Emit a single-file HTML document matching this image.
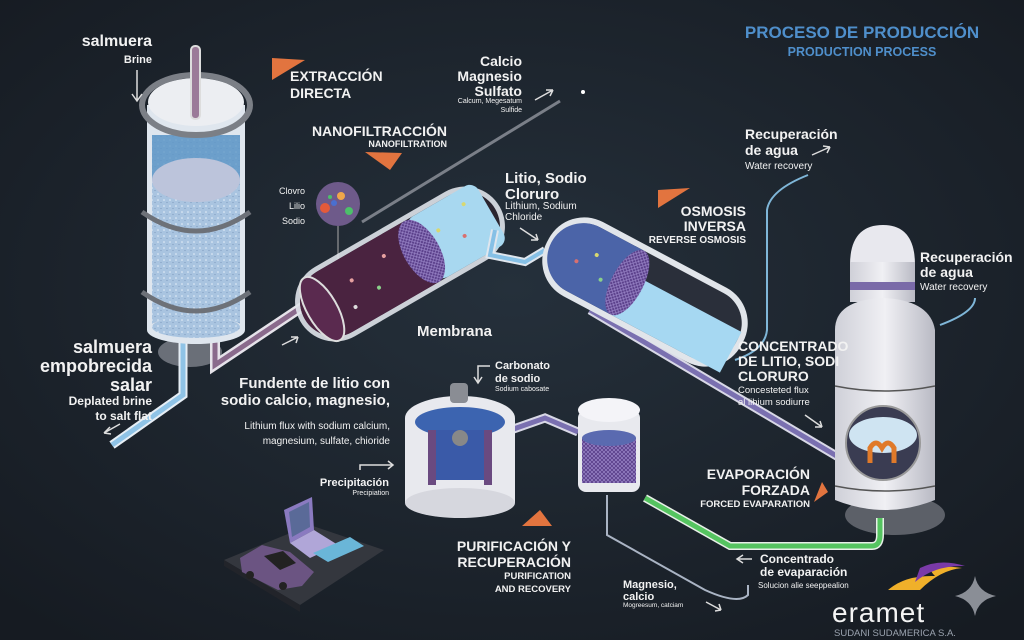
<!DOCTYPE html>
<html><head><meta charset="utf-8"><style>
html,body{margin:0;padding:0;background:#1d232c;}
svg{display:block;}
text{font-family:"Liberation Sans",sans-serif;fill:#f2f2f2;}
.b{font-weight:bold;}
</style></head><body>
<svg width="1024" height="640" viewBox="0 0 1024 640" xmlns="http://www.w3.org/2000/svg">
<defs>
<radialGradient id="bg" cx="50%" cy="45%" r="70%"><stop offset="0" stop-color="#25303b"/><stop offset="1" stop-color="#161b22"/></radialGradient>
<pattern id="dots" width="6" height="6" patternUnits="userSpaceOnUse"><rect width="6" height="6" fill="#a9c4e0"/><circle cx="2" cy="2" r="0.8" fill="#e8f0fa"/><circle cx="5" cy="4.5" r="0.6" fill="#7f9cc0"/></pattern>
<pattern id="mesh" width="4" height="4" patternUnits="userSpaceOnUse"><rect width="4" height="4" fill="#5a3f8a"/><path d="M0 0L4 4M4 0L0 4" stroke="#9a86c8" stroke-width="0.7"/></pattern>
<linearGradient id="evap" x1="0" x2="1"><stop offset="0" stop-color="#cfd0d8"/><stop offset="0.5" stop-color="#f0f0f4"/><stop offset="1" stop-color="#b9bac4"/></linearGradient>
</defs>
<rect width="1024" height="640" fill="url(#bg)"/>

<text x="862" y="38" text-anchor="middle" class="b" font-size="17" style="fill:#4f8fcb">PROCESO DE PRODUCCIÓN</text>
<text x="862" y="56" text-anchor="middle" class="b" font-size="12.5" style="fill:#4f8fcb">PRODUCTION PROCESS</text>

<!-- left tank -->
<ellipse cx="190" cy="352" rx="32" ry="15" fill="#6a6f78"/>
<path d="M183 340 L183 395 L112 445" fill="none" stroke="#e6eef5" stroke-width="9"/>
<path d="M183 340 L183 395 L112 445" fill="none" stroke="#8fc3e6" stroke-width="5"/>
<path d="M215 330 L215 365 L320 295" fill="none" stroke="#e6e3ea" stroke-width="10"/>
<path d="M215 330 L215 365 L320 295" fill="none" stroke="#8a6a8c" stroke-width="5"/>
<rect x="147" y="105" width="98" height="225" fill="#dfe6ee"/>
<rect x="152" y="135" width="88" height="195" fill="url(#dots)"/>
<rect x="152" y="135" width="88" height="45" fill="#5d96c6" opacity="0.8"/>
<ellipse cx="196" cy="180" rx="44" ry="22" fill="#bcc4db"/>
<ellipse cx="196" cy="330" rx="49" ry="14" fill="#dfe6ee"/>
<ellipse cx="196" cy="327" rx="44" ry="11" fill="url(#dots)"/>
<ellipse cx="196" cy="105" rx="54" ry="30" fill="none" stroke="#7b7f86" stroke-width="6"/>
<ellipse cx="196" cy="102" rx="48" ry="24" fill="#eceef2"/>
<path d="M142 212 Q196 250 250 212" fill="none" stroke="#6d7178" stroke-width="5"/>
<path d="M142 292 Q196 330 250 292" fill="none" stroke="#6d7178" stroke-width="5"/>
<rect x="191" y="46" width="9" height="73" rx="4" fill="#9b7a98" stroke="#ddd" stroke-width="2"/>
<text x="152" y="46" text-anchor="end" class="b" font-size="16">salmuera</text>
<text x="152" y="63" text-anchor="end" class="b" font-size="11">Brine</text>
<path d="M137 70 V100 M132 94 L137 101 L142 94" stroke="#ddd" stroke-width="1.5" fill="none"/>

<text x="152" y="353" text-anchor="end" class="b" font-size="18">salmuera</text>
<text x="152" y="372" text-anchor="end" class="b" font-size="18">empobrecida</text>
<text x="152" y="391" text-anchor="end" class="b" font-size="18">salar</text>
<text x="152" y="405" text-anchor="end" class="b" font-size="12">Deplated brine</text>
<text x="152" y="420" text-anchor="end" class="b" font-size="12">to salt flat</text>
<path d="M120 424 L104 433 M104 433 L110 427 M104 433 L111 434" stroke="#ddd" stroke-width="1.5"/>

<path d="M272 58 L305 60 L272 80Z" fill="#e2743f"/>
<text x="290" y="81" class="b" font-size="14">EXTRACCIÓN</text>
<text x="290" y="98" class="b" font-size="14">DIRECTA</text>
<text x="447" y="136" text-anchor="end" class="b" font-size="14">NANOFILTRACCIÓN</text>
<text x="447" y="147" text-anchor="end" class="b" font-size="9">NANOFILTRATION</text>
<path d="M365 152 L402 153 L390 170Z" fill="#e2743f"/>
<text x="522" y="66" text-anchor="end" class="b" font-size="14">Calcio</text>
<text x="522" y="81" text-anchor="end" class="b" font-size="14">Magnesio</text>
<text x="522" y="96" text-anchor="end" class="b" font-size="14">Sulfato</text>
<text x="522" y="103" text-anchor="end" font-size="7">Calcum, Megesatum</text>
<text x="522" y="112" text-anchor="end" font-size="7">Sulfide</text>
<path d="M535 100 L553 90 M553 90 L546 90 M553 90 L550 96" stroke="#ddd" stroke-width="1.5"/>
<circle cx="583" cy="92" r="2" fill="#fff"/>
<path d="M560 101 L362 222" stroke="#7a7f88" stroke-width="3"/>

<circle cx="338" cy="204" r="22" fill="#6e5a8a"/>
<circle cx="341" cy="196" r="4" fill="#f0a64a"/><circle cx="325" cy="208" r="5" fill="#e45a3a"/><circle cx="349" cy="211" r="4" fill="#4cc06a"/><circle cx="334" cy="203" r="3" fill="#4a6fd0"/><circle cx="330" cy="197" r="2" fill="#4cc06a"/>
<line x1="338" y1="226" x2="338" y2="265" stroke="#aaa" stroke-width="1"/>
<text x="305" y="194" text-anchor="end" font-size="9">Clovro</text>
<text x="305" y="209" text-anchor="end" font-size="9">Lilio</text>
<text x="305" y="224" text-anchor="end" font-size="9">Sodio</text>

<g transform="translate(400,264) rotate(-30)">
<rect x="-115" y="-40" width="230" height="80" rx="40" fill="#dfe3ea" opacity="0.9"/>
<rect x="-110" y="-35" width="220" height="70" rx="35" fill="#2a2530"/>
<path d="M-75 -35 H25 V35 H-75 A 35 35 0 0 1 -75 -35Z" fill="#4a2340"/>
<rect x="25" y="-35" width="80" height="70" rx="10" fill="#a8d8f0"/>
<ellipse cx="25" cy="0" rx="18" ry="35" fill="url(#mesh)"/>
<ellipse cx="-90" cy="0" rx="15" ry="36" fill="#5a2a4f" stroke="#ddd" stroke-width="2"/>
<circle cx="-50" cy="-10" r="2" fill="#e6a0a0"/><circle cx="-30" cy="10" r="2" fill="#8ad08a"/><circle cx="-10" cy="-15" r="2" fill="#e6a0a0"/><circle cx="-60" cy="15" r="2" fill="#ddd"/>
<circle cx="50" cy="-10" r="2" fill="#d8d870"/><circle cx="70" cy="8" r="2" fill="#d87070"/><circle cx="85" cy="-20" r="2" fill="#d8d870"/>
</g>
<path d="M495 230 L490 255 L525 262 L545 250" fill="none" stroke="#dfe6ee" stroke-width="8"/>
<path d="M495 230 L490 255 L525 262 L545 250" fill="none" stroke="#86c0e6" stroke-width="4"/>

<text x="505" y="183" class="b" font-size="15">Litio, Sodio</text>
<text x="505" y="199" class="b" font-size="15">Cloruro</text>
<text x="505" y="209" font-size="10">Lithium, Sodium</text>
<text x="505" y="220" font-size="10">Chloride</text>
<path d="M520 228 L538 240 M538 240 L531 240 M538 240 L536 234" stroke="#ddd" stroke-width="1.5"/>

<text x="417" y="336" class="b" font-size="15">Membrana</text>

<path d="M590 310 L840 458" stroke="#d8d8e6" stroke-width="9"/>
<path d="M590 310 L840 458" stroke="#7a70b0" stroke-width="5"/>
<g transform="translate(645,292) rotate(28)">
<rect x="-110" y="-42" width="220" height="84" rx="40" fill="#e1e5ea"/>
<rect x="-104" y="-36" width="208" height="72" rx="34" fill="#2a2f3a"/>
<path d="M-70 -36 H-20 V36 H-70 A36 36 0 0 1 -70 -36Z" fill="#4b64a8"/>
<rect x="-20" y="-10" width="124" height="46" fill="#a6d8f2"/>
<ellipse cx="-20" cy="0" rx="16" ry="36" fill="url(#mesh)"/>
<circle cx="-60" cy="-10" r="2" fill="#d8d870"/><circle cx="-45" cy="10" r="2" fill="#8ad08a"/><circle cx="-75" cy="5" r="2" fill="#d87070"/>
</g>
<path d="M658 190 L690 188 L658 208Z" fill="#e2743f"/>
<text x="746" y="216" text-anchor="end" class="b" font-size="14">OSMOSIS</text>
<text x="746" y="231" text-anchor="end" class="b" font-size="14">INVERSA</text>
<text x="746" y="243" text-anchor="end" class="b" font-size="10">REVERSE OSMOSIS</text>

<text x="745" y="139" class="b" font-size="14">Recuperación</text>
<text x="745" y="155" class="b" font-size="14">de agua</text>
<text x="745" y="169" font-size="10">Water recovery</text>
<path d="M812 155 L830 147 M830 147 L823 146 M830 147 L827 153" stroke="#ddd" stroke-width="1.5"/>
<path d="M808 175 Q770 190 767 210 L767 330 Q765 350 735 360" fill="none" stroke="#7fb6d8" stroke-width="2"/>

<ellipse cx="895" cy="515" rx="50" ry="20" fill="#5c6068"/>
<path d="M850 265 Q850 225 883 225 Q915 225 915 265 Z" fill="#e8e8ee"/>
<rect x="850" y="262" width="65" height="40" fill="url(#evap)"/>
<rect x="850" y="282" width="65" height="8" fill="#7a6aa8"/>
<path d="M835 330 Q835 300 883 298 Q930 300 935 330 L935 500 Q885 520 835 500Z" fill="url(#evap)"/>
<path d="M835 386 Q885 396 935 386" fill="none" stroke="#555" stroke-width="1.5"/>
<path d="M835 486 Q885 496 935 486" fill="none" stroke="#555" stroke-width="1.5"/>
<circle cx="883" cy="443" r="37" fill="#3a3c52" stroke="#999" stroke-width="2"/>
<ellipse cx="883" cy="435" rx="34" ry="18" fill="#cfe4f2"/>
<path d="M870 463 V448 Q876 438 882 448 Q888 438 894 448 V463" fill="none" stroke="#e07a2a" stroke-width="5"/>
<text x="920" y="262" class="b" font-size="14">Recuperación</text>
<text x="920" y="277" class="b" font-size="14">de agua</text>
<text x="920" y="290" font-size="10">Water recovery</text>
<path d="M975 298 Q975 312 940 325" fill="none" stroke="#7fb6d8" stroke-width="2"/>

<text x="738" y="351" class="b" font-size="14">CONCENTRADO</text>
<text x="738" y="366" class="b" font-size="14">DE LITIO, SODI</text>
<text x="738" y="381" class="b" font-size="14">CLORURO</text>
<text x="738" y="393" font-size="9.5">Concesteted flux</text>
<text x="738" y="405" font-size="9.5">al lihium sodiurre</text>
<path d="M805 415 L822 427 M822 427 L815 427 M822 427 L820 421" stroke="#ddd" stroke-width="1.5"/>

<text x="810" y="479" text-anchor="end" class="b" font-size="14">EVAPORACIÓN</text>
<text x="810" y="495" text-anchor="end" class="b" font-size="14">FORZADA</text>
<text x="810" y="507" text-anchor="end" class="b" font-size="9.5">FORCED EVAPARATION</text>
<path d="M822 482 L828 492 L814 502Z" fill="#e2743f"/>

<path d="M645 498 L730 546 L872 546 Q880 546 880 535 L880 518" fill="none" stroke="#e8efe8" stroke-width="8"/>
<path d="M645 498 L730 546 L872 546 Q880 546 880 535 L880 518" fill="none" stroke="#55c460" stroke-width="5"/>

<path d="M505 432 L545 418 L578 432" fill="none" stroke="#d8d8e6" stroke-width="9"/>
<path d="M505 432 L545 418 L578 432" fill="none" stroke="#7a70b0" stroke-width="5"/>
<rect x="405" y="418" width="110" height="85" fill="#e8e9ee"/>
<ellipse cx="460" cy="503" rx="55" ry="15" fill="#d6d7de"/>
<ellipse cx="460" cy="418" rx="55" ry="22" fill="#e8e9ee"/>
<ellipse cx="460" cy="422" rx="45" ry="15" fill="#3c64b0"/>
<rect x="435" y="430" width="50" height="50" fill="#3a5aa8"/>
<rect x="428" y="430" width="8" height="55" fill="#6a4a80"/>
<rect x="484" y="430" width="8" height="55" fill="#6a4a80"/>
<rect x="450" y="383" width="18" height="20" rx="4" fill="#8a8d94"/>
<circle cx="460" cy="438" r="8" fill="#888"/>
<text x="495" y="369" class="b" font-size="11">Carbonato</text>
<text x="495" y="382" class="b" font-size="11">de sodio</text>
<text x="495" y="391" font-size="7">Sodium cabosate</text>
<path d="M490 366 H478 V382 M474 377 L478 383 L482 377" stroke="#ddd" stroke-width="1.5" fill="none"/>

<text x="390" y="388" text-anchor="end" class="b" font-size="15">Fundente de litio con</text>
<text x="390" y="405" text-anchor="end" class="b" font-size="15">sodio calcio, magnesio,</text>
<text x="390" y="429" text-anchor="end" font-size="10">Lithium flux with sodium calcium,</text>
<text x="390" y="444" text-anchor="end" font-size="10">magnesium, sulfate, chioride</text>
<path d="M360 470 V465 H393 M388 461 L393 465 L388 469" stroke="#ddd" stroke-width="1.5" fill="none"/>
<text x="389" y="486" text-anchor="end" class="b" font-size="11">Precipitación</text>
<text x="389" y="495" text-anchor="end" font-size="7">Precipiation</text>
<path d="M282 345 L298 337 M298 337 L291 337 M298 337 L296 343" stroke="#ddd" stroke-width="1.5"/>

<rect x="578" y="410" width="62" height="82" rx="8" fill="#e8e9ee"/>
<ellipse cx="609" cy="410" rx="31" ry="12" fill="#f4f4f8"/>
<rect x="582" y="438" width="54" height="45" fill="url(#mesh)"/>
<ellipse cx="609" cy="438" rx="27" ry="8" fill="#5a6ab0"/>
<path d="M607 495 V535 L705 590 Q738 605 748 595 V585" fill="none" stroke="#aab4c4" stroke-width="2"/>

<path d="M522 526 L540 510 L552 526Z" fill="#e2743f"/>
<text x="571" y="551" text-anchor="end" class="b" font-size="14">PURIFICACIÓN Y</text>
<text x="571" y="567" text-anchor="end" class="b" font-size="14">RECUPERACIÓN</text>
<text x="571" y="579" text-anchor="end" class="b" font-size="9.5">PURIFICATION</text>
<text x="571" y="592" text-anchor="end" class="b" font-size="9.5">AND RECOVERY</text>

<text x="623" y="588" class="b" font-size="11">Magnesio,</text>
<text x="623" y="600" class="b" font-size="11">calcio</text>
<text x="623" y="607" font-size="6.5">Mogreesum, catciam</text>
<path d="M706 602 L721 610 M721 610 L715 611 M721 610 L719 604" stroke="#ddd" stroke-width="1.5"/>

<text x="760" y="563" class="b" font-size="12">Concentrado</text>
<text x="760" y="576" class="b" font-size="12">de evaparación</text>
<text x="758" y="588" font-size="8">Solucion alie seeppealion</text>
<path d="M752 559 H738 M743 555 L737 559 L743 563" stroke="#ddd" stroke-width="1.5" fill="none"/>

<!-- devices platform -->
<path d="M224 560 L310 525 L384 550 L300 605Z" fill="#34373e"/>
<path d="M224 560 L300 605 L300 612 L224 566Z" fill="#22242a"/>
<path d="M284 510 L312 497 L314 530 L290 543Z" fill="#8a7ac0"/>
<path d="M289 512 L309 502 L310 527 L292 537Z" fill="#5a6a98"/>
<path d="M290 543 L314 530 L338 545 L310 558Z" fill="#b0a6d8"/>
<path d="M313 553 L350 537 L364 546 L328 562Z" fill="#6ab6d8"/>
<path d="M240 558 L262 545 L290 552 L314 572 L302 586 L278 590 L242 572Z" fill="#6b5482"/>
<path d="M264 556 L283 551 L296 563 L280 570Z" fill="#222"/>
<circle cx="250" cy="575" r="4" fill="#222"/><circle cx="283" cy="586" r="4" fill="#222"/>

<!-- logo -->
<path d="M888 590 Q905 575 935 576 Q920 562 962 568 Q940 570 920 590 Z" fill="#f0b02a"/>
<path d="M920 568 Q940 558 965 566 Q935 565 915 582Z" fill="#7a3aa8"/>
<text x="832" y="622" font-size="28" style="fill:#f4f4f4;letter-spacing:1px">eramet</text>
<text x="834" y="636" font-size="9.5" style="fill:#9aa2ae">SUDANI SUDAMERICA S.A.</text>
<path d="M975 576 Q978 592 996 596 Q978 600 975 616 Q972 600 955 596 Q972 592 975 576Z" fill="#8a8e96"/>
</svg>
</body></html>
